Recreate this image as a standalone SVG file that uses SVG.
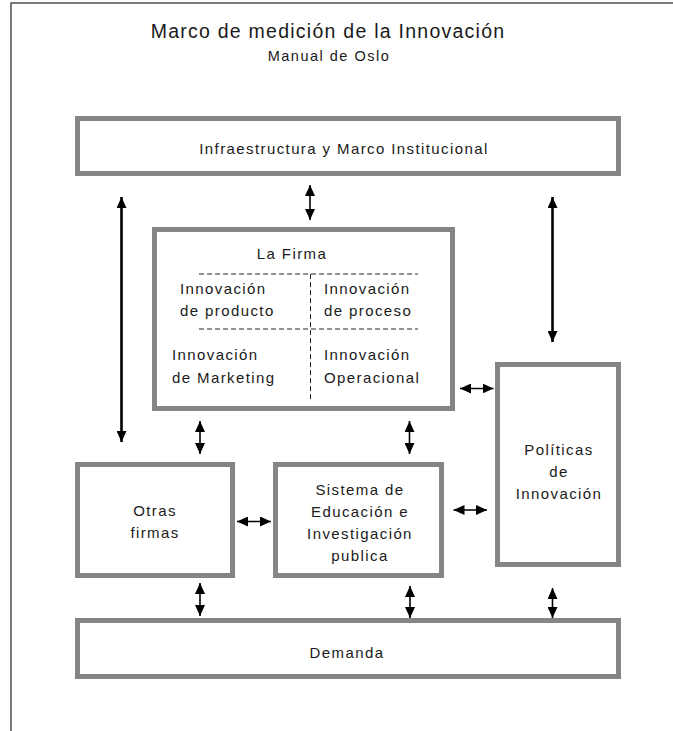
<svg xmlns="http://www.w3.org/2000/svg" width="673" height="731" viewBox="0 0 673 731">
  <defs>
    <style>
      .box { fill: #ffffff; stroke: #858585; stroke-width: 5; }
      .frame { fill: none; stroke: #505050; stroke-width: 1.5; }
      .div { fill: none; stroke: #222222; stroke-width: 1; stroke-dasharray: 5 3; }
      .lbl { font-family: "Liberation Sans", Arial, sans-serif; font-size: 15px; letter-spacing: 1.4px; fill: #1a1a1a; }
      .mid { text-anchor: middle; }
      .title { font-family: "Liberation Sans", Arial, sans-serif; font-size: 19.5px; letter-spacing: 1.25px; fill: #1a1a1a; text-anchor: middle; }
      .sub { font-family: "Liberation Sans", Arial, sans-serif; font-size: 14.5px; letter-spacing: 1.5px; fill: #1a1a1a; text-anchor: middle; }
      .link { stroke: #000000; stroke-width: 1.6; fill: none; marker-start: url(#head); marker-end: url(#head); }
      .long { stroke-width: 2.6; }
    </style>
    <marker id="head" markerUnits="userSpaceOnUse" markerWidth="11" markerHeight="10" refX="11" refY="5" orient="auto-start-reverse">
      <path d="M0,0 L11,5 L0,10 z" fill="#000000"/>
    </marker>
  </defs>

  <rect width="673" height="731" fill="#ffffff"/>

  <!-- page frame: top and left edges only -->
  <path class="frame" d="M11,731 L11,3 L673,3"/>

  <!-- heading -->
  <g id="heading">
    <text class="title" x="328" y="38">Marco de medición de la Innovación</text>
    <text class="sub" x="329" y="61">Manual de Oslo</text>
  </g>

  <g id="infraestructura">
    <rect class="box" x="77.5" y="118.5" width="541" height="55"/>
    <text class="lbl mid" x="344" y="154">Infraestructura y Marco Institucional</text>
  </g>

  <g id="la-firma">
    <rect class="box" x="154.5" y="229.5" width="298" height="179"/>
    <text class="lbl mid" x="292" y="259">La Firma</text>
    <line class="div" x1="199" y1="274" x2="418" y2="274"/>
    <line class="div" x1="199" y1="329" x2="418" y2="329"/>
    <line class="div" x1="310.5" y1="274" x2="310.5" y2="399"/>
    <text class="lbl" x="180" y="294">Innovación</text>
    <text class="lbl" x="180" y="316">de producto</text>
    <text class="lbl" x="324" y="294">Innovación</text>
    <text class="lbl" x="324" y="316">de proceso</text>
    <text class="lbl" x="172" y="360">Innovación</text>
    <text class="lbl" x="172" y="383">de Marketing</text>
    <text class="lbl" x="324" y="360">Innovación</text>
    <text class="lbl" x="324" y="383">Operacional</text>
  </g>

  <g id="politicas">
    <rect class="box" x="497.5" y="364.5" width="121" height="200"/>
    <text class="lbl mid" x="559" y="455">Políticas</text>
    <text class="lbl mid" x="559" y="477">de</text>
    <text class="lbl mid" x="559" y="499">Innovación</text>
  </g>

  <g id="otras-firmas">
    <rect class="box" x="77.5" y="464.5" width="155" height="111"/>
    <text class="lbl mid" x="155" y="516">Otras</text>
    <text class="lbl mid" x="155" y="538">firmas</text>
  </g>

  <g id="sistema">
    <rect class="box" x="275.5" y="464.5" width="166" height="111"/>
    <text class="lbl mid" x="360" y="495">Sistema de</text>
    <text class="lbl mid" x="360" y="517">Educación e</text>
    <text class="lbl mid" x="360" y="539">Investigación</text>
    <text class="lbl mid" x="360" y="561">publica</text>
  </g>

  <g id="demanda">
    <rect class="box" x="77.5" y="620.5" width="541" height="56"/>
    <text class="lbl mid" x="347" y="658">Demanda</text>
  </g>

  <!-- two-way links between the blocks -->
  <g id="connectors">
    <line class="link" x1="310" y1="185" x2="310" y2="220"/>
    <line class="link long" x1="121.5" y1="197" x2="121.5" y2="442"/>
    <line class="link long" x1="552.5" y1="197" x2="552.5" y2="342"/>
    <line class="link" x1="460" y1="388.5" x2="493.5" y2="388.5"/>
    <line class="link" x1="200" y1="421" x2="200" y2="454"/>
    <line class="link" x1="409.5" y1="421" x2="409.5" y2="454"/>
    <line class="link" x1="237" y1="521.5" x2="271" y2="521.5"/>
    <line class="link" x1="453.5" y1="510" x2="487" y2="510"/>
    <line class="link" x1="200" y1="583" x2="200" y2="616"/>
    <line class="link" x1="410" y1="586" x2="410" y2="618"/>
    <line class="link" x1="552.5" y1="588" x2="552.5" y2="618"/>
  </g>
</svg>
